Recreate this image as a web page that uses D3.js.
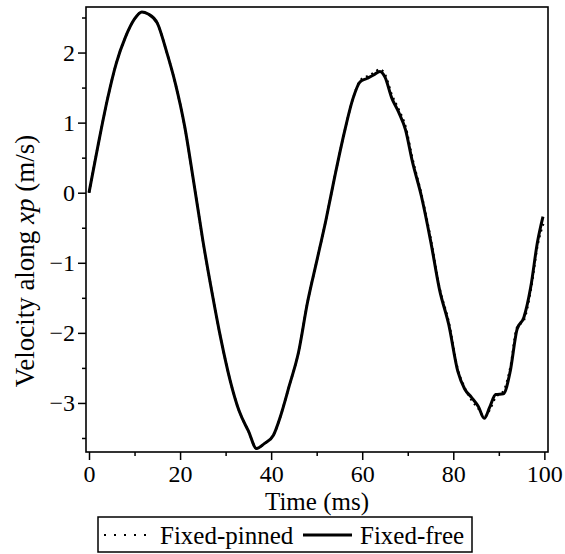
<!DOCTYPE html>
<html>
<head>
<meta charset="utf-8">
<script src="https://cdn.jsdelivr.net/npm/d3@7"></script>
<style>
  body { margin: 0; background: #fff; }
  text { font-family: "Liberation Serif", "Times New Roman", serif; fill: #000; }
</style>
</head>
<body>
<div id="chart"></div>
<script>
// Fixed-free (solid line): time in ms, velocity in m/s
const freeTime = [0, 2, 4, 6, 8, 10, 11.6, 13, 15, 17, 19, 21, 23, 25, 27, 29, 31, 33, 35, 36.8,
  38.5, 40.5, 42, 44, 46, 48, 50, 52, 54, 56, 58, 59.5, 61, 62.5, 63.9, 65, 66.5, 68, 69.5,
  71, 73, 75, 77, 79, 81, 82.5, 84, 85.5, 86.8, 88, 89.3, 91, 92.5, 94, 95.5, 97, 98.5, 99.7];
const freeVel = [0, 0.68, 1.32, 1.85, 2.22, 2.48, 2.58, 2.55, 2.42, 2.02, 1.55, 0.95, 0.15, -0.68,
  -1.42, -2.1, -2.68, -3.12, -3.4, -3.65, -3.58, -3.46, -3.2, -2.75, -2.28, -1.56, -0.98, -0.4,
  0.24, 0.84, 1.35, 1.58, 1.63, 1.68, 1.73, 1.65, 1.35, 1.15, 0.9, 0.45, -0.05, -0.68, -1.39,
  -1.88, -2.55, -2.8, -2.92, -3.05, -3.22, -3.06, -2.88, -2.87, -2.55, -1.95, -1.78, -1.35, -0.7, -0.34];

// Fixed-pinned (dotted line): almost on top of the solid one
const pinnedTime = [0, 2, 4, 6, 8, 10, 11.6, 13, 15, 17, 19, 21, 23, 25, 27, 29, 31, 33, 35, 36.8,
  38.5, 40.5, 42, 44, 46, 48, 50, 52, 54, 56, 58, 59.5, 61, 62.5, 63.9, 65, 66.5, 68, 69.5,
  71, 73, 75, 77, 79, 81, 82.5, 84, 85.5, 86.8, 88, 89.3, 91, 92.5, 94, 95.5, 97, 98.5, 99.9];
const pinnedVel = [0, 0.68, 1.32, 1.85, 2.22, 2.48, 2.58, 2.55, 2.42, 2.02, 1.55, 0.95, 0.15, -0.68,
  -1.42, -2.1, -2.68, -3.12, -3.4, -3.65, -3.58, -3.46, -3.2, -2.75, -2.28, -1.56, -0.98, -0.4,
  0.24, 0.84, 1.35, 1.6, 1.66, 1.71, 1.76, 1.69, 1.4, 1.19, 0.95, 0.5, -0.02, -0.64, -1.36,
  -1.84, -2.52, -2.78, -2.96, -3.08, -3.2, -3.1, -2.92, -2.83, -2.5, -1.92, -1.82, -1.4, -0.76, -0.42];

const xTicks = [0, 20, 40, 60, 80, 100];
const xMinor = [10, 30, 50, 70, 90];
const yTicks = [-3, -2, -1, 0, 1, 2];
const yMinor = [-3.5, -2.5, -1.5, -0.5, 0.5, 1.5, 2.5];
const legendLabels = ["Fixed-pinned", "Fixed-free"];

const W = 565, H = 554;
const margin = { top: 7, right: 17, bottom: 102, left: 86 };
const width = W - margin.left - margin.right;
const height = H - margin.top - margin.bottom;

const svg = d3.select("#chart")
  .append("svg")
  .attr("width", W)
  .attr("height", H);

const g = svg.append("g")
  .attr("transform", `translate(${margin.left},${margin.top})`);

const xScale = d3.scaleLinear().domain([-0.66, 100.8]).range([0, width]);
const yScale = d3.scaleLinear().domain([-3.7, 2.65]).range([height, 0]);

const fmt = d => d < 0 ? "\u2212" + Math.abs(d) : String(d);

// x axis, major then minor ticks
g.append("g")
  .attr("transform", `translate(0,${height})`)
  .call(d3.axisBottom(xScale).tickValues(xTicks).tickSize(8).tickPadding(5).tickFormat(fmt));
g.append("g")
  .attr("transform", `translate(0,${height})`)
  .call(d3.axisBottom(xScale).tickValues(xMinor).tickSize(4).tickFormat(""));

g.append("g")
  .call(d3.axisLeft(yScale).tickValues(yTicks).tickSize(8).tickPadding(3).tickFormat(fmt));
g.append("g")
  .call(d3.axisLeft(yScale).tickValues(yMinor).tickSize(4).tickFormat(""));

g.selectAll(".domain").remove();
g.selectAll(".tick line").attr("stroke", "#000").attr("stroke-width", 1.5);
g.selectAll(".tick text")
  .style("font-family", "'Liberation Serif', serif")
  .style("font-size", "24px")
  .attr("fill", "#000");

// frame
g.append("rect")
  .attr("width", width)
  .attr("height", height)
  .attr("fill", "none")
  .attr("stroke", "#000")
  .attr("stroke-width", 1.6);

const line = d3.line()
  .x(d => xScale(d[0]))
  .y(d => yScale(d[1]))
  .curve(d3.curveMonotoneX);

const pinned = pinnedTime.map((t, i) => [t, pinnedVel[i]]);
const free = freeTime.map((t, i) => [t, freeVel[i]]);

g.append("path")
  .datum(pinned)
  .attr("d", line)
  .attr("fill", "none")
  .attr("stroke", "#000")
  .attr("stroke-width", 2.2)
  .attr("stroke-dasharray", "2,4");

g.append("path")
  .datum(free)
  .attr("d", line)
  .attr("fill", "none")
  .attr("stroke", "#000")
  .attr("stroke-width", 3)
  .attr("stroke-linejoin", "round");

// axis titles
svg.append("text")
  .attr("x", 317)
  .attr("y", 510)
  .attr("text-anchor", "middle")
  .style("font-size", "25px")
  .text("Time (ms)");

const yTitle = svg.append("text")
  .attr("transform", "translate(34,261) rotate(-90)")
  .attr("text-anchor", "middle")
  .style("font-size", "27px");
yTitle.append("tspan").text("Velocity along ");
yTitle.append("tspan").style("font-style", "italic").text("xp");
yTitle.append("tspan").text(" (m/s)");

// legend
const leg = svg.append("g");
leg.append("rect")
  .attr("x", 98).attr("y", 517)
  .attr("width", 374).attr("height", 35)
  .attr("fill", "#fff")
  .attr("stroke", "#000")
  .attr("stroke-width", 1.5);
leg.append("line")
  .attr("x1", 104).attr("x2", 148).attr("y1", 535).attr("y2", 535)
  .attr("stroke", "#000").attr("stroke-width", 2.2).attr("stroke-dasharray", "2,8");
leg.append("text")
  .attr("x", 160).attr("y", 544)
  .style("font-size", "25px")
  .text(legendLabels[0]);
leg.append("line")
  .attr("x1", 303).attr("x2", 352).attr("y1", 535).attr("y2", 535)
  .attr("stroke", "#000").attr("stroke-width", 3);
leg.append("text")
  .attr("x", 360).attr("y", 544)
  .style("font-size", "25px")
  .text(legendLabels[1]);
</script>
</body>
</html>
